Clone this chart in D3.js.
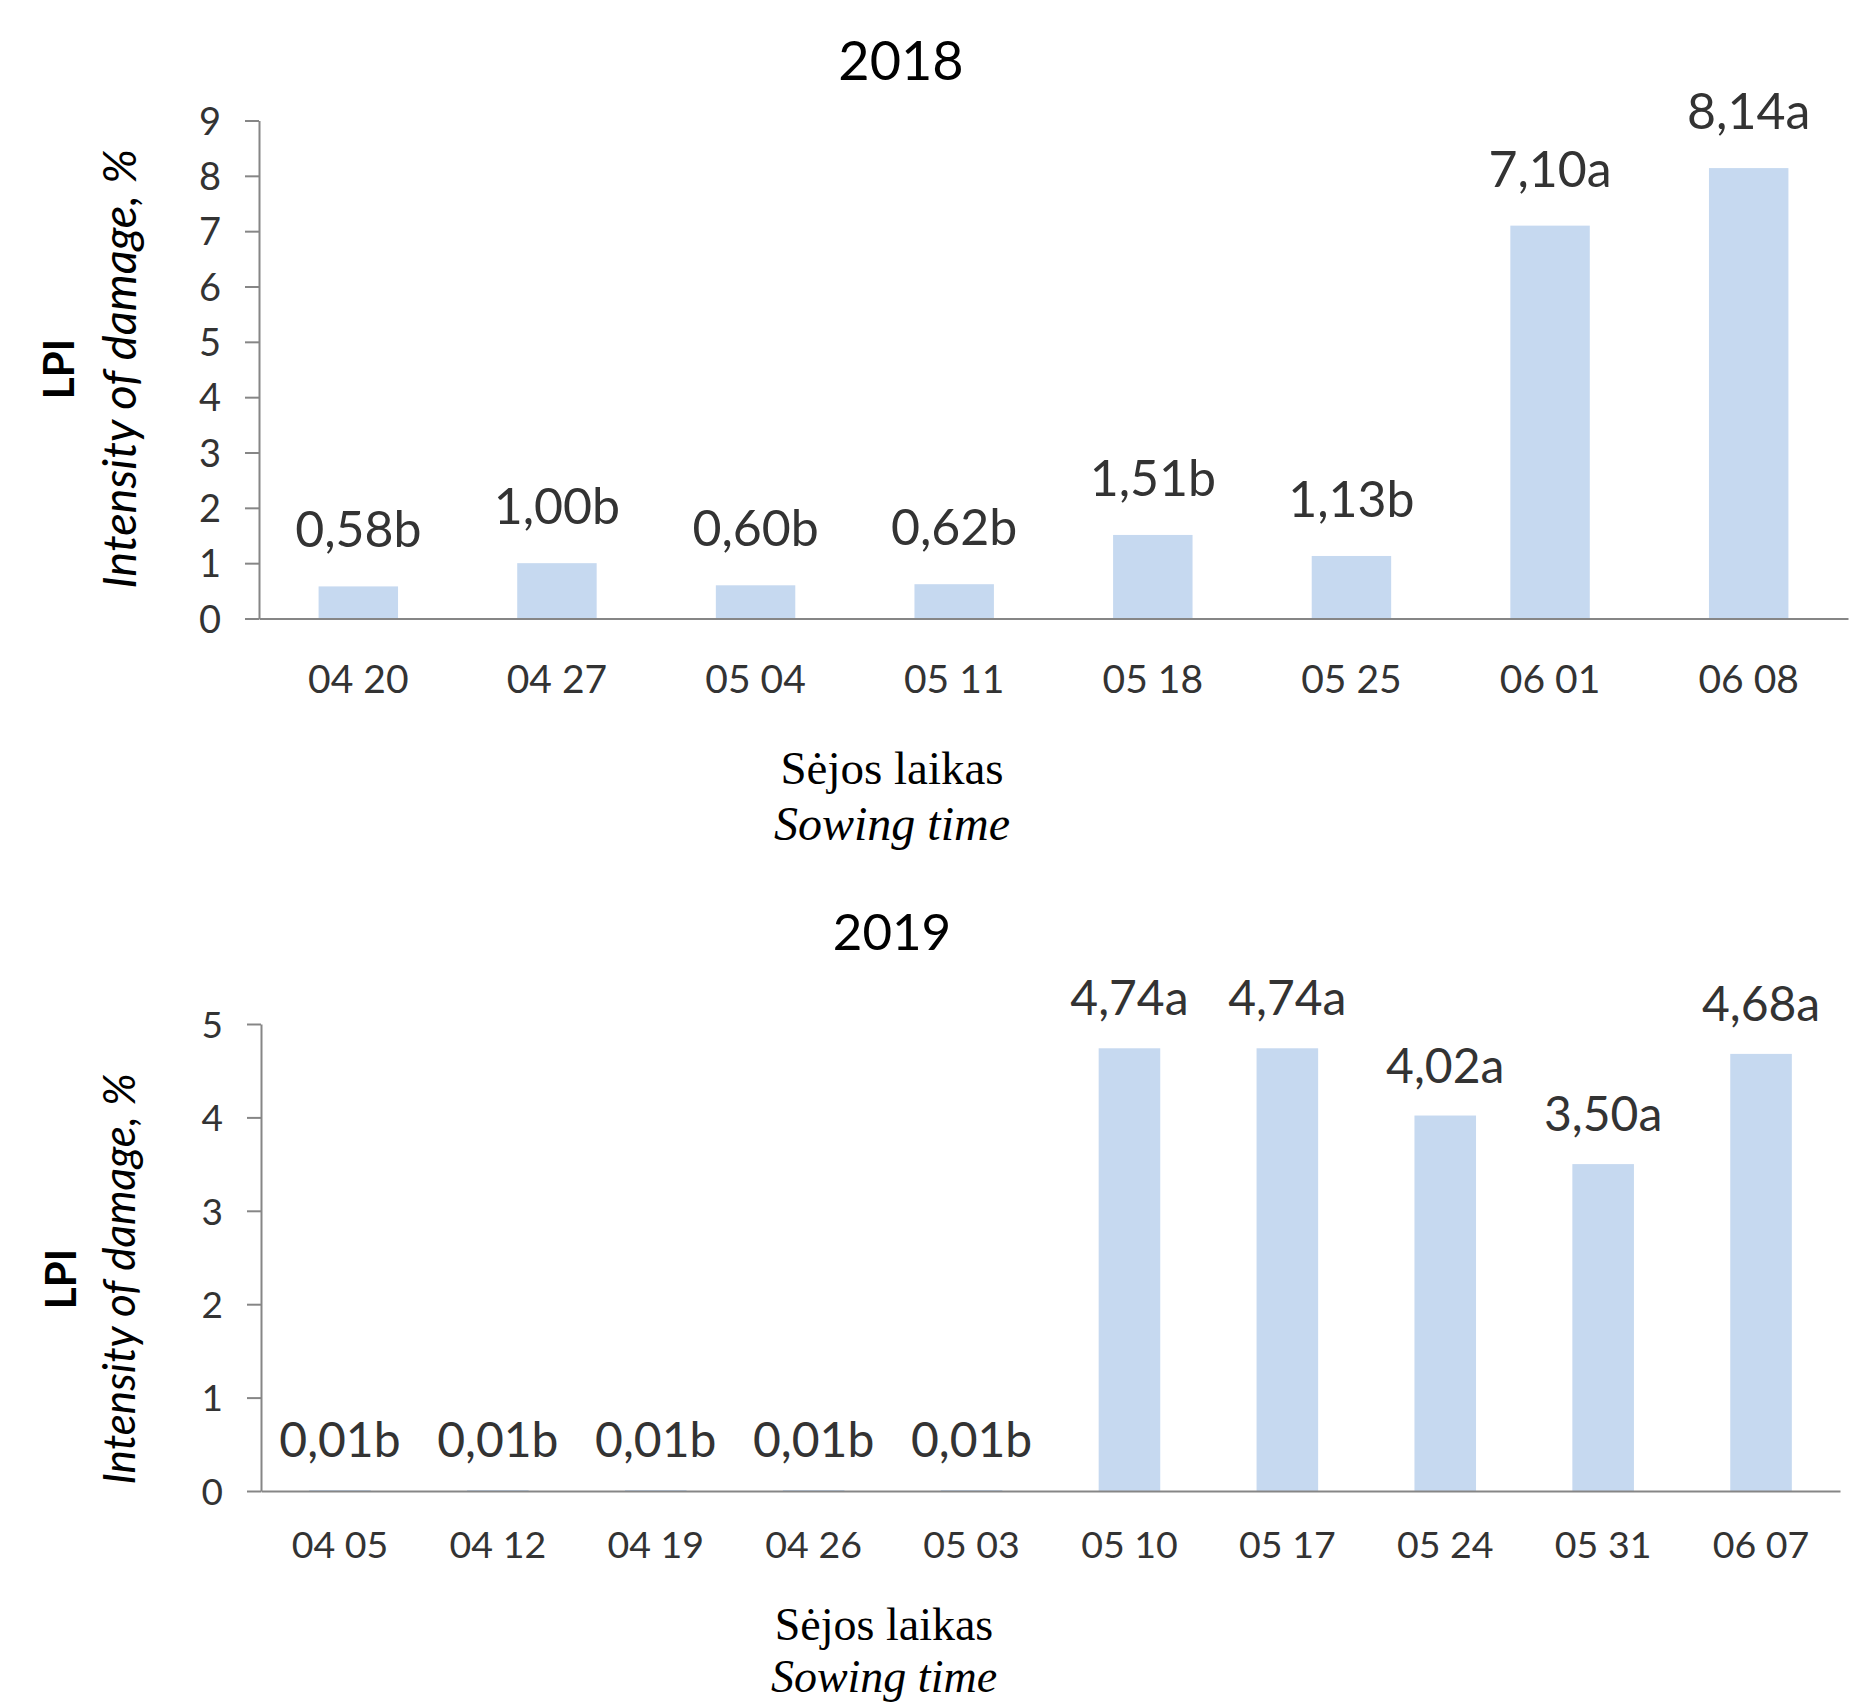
<!DOCTYPE html>
<html>
<head>
<meta charset="utf-8">
<script src="https://cdn.jsdelivr.net/npm/d3@7"></script>
<style>
  body { margin: 0; background: #fff; }
  svg { display: block; }
</style>
</head>
<body>
<script>
// 2018 data
var dates2018 = ["04 20", "04 27", "05 04", "05 11", "05 18", "05 25", "06 01", "06 08"];
var values2018 = [0.58, 1.00, 0.60, 0.62, 1.51, 1.13, 7.10, 8.14];
var letters2018 = ["b", "b", "b", "b", "b", "b", "a", "a"];
var yTicks2018 = [0, 1, 2, 3, 4, 5, 6, 7, 8, 9];

// 2019 data
var dates2019 = ["04 05", "04 12", "04 19", "04 26", "05 03", "05 10", "05 17", "05 24", "05 31", "06 07"];
var values2019 = [0.01, 0.01, 0.01, 0.01, 0.01, 4.74, 4.74, 4.02, 3.50, 4.68];
var letters2019 = ["b", "b", "b", "b", "b", "a", "a", "a", "a", "a"];
var yTicks2019 = [0, 1, 2, 3, 4, 5];

var svgWidth = 1862;
var svgHeight = 1706;

var barColor = "#c6d9f0";
var axisColor = "#868686";
var textColor = "#333333";
var sansFont = "Lato, 'Open Sans', sans-serif";
var serifFont = "'Liberation Serif', 'DejaVu Serif', serif";

var svg = d3.select("body").append("svg")
    .attr("width", svgWidth)
    .attr("height", svgHeight);

function decimalComma(v) {
    return v.toFixed(2).replace(".", ",");
}

function drawChart(cfg) {
    var g = svg.append("g");

    var x = d3.scaleBand()
        .domain(cfg.dates)
        .range([cfg.left, cfg.right])
        .paddingInner(cfg.pad)
        .paddingOuter(cfg.pad / 2);

    var y = d3.scaleLinear()
        .domain([0, d3.max(cfg.ticks)])
        .range([cfg.bottom, cfg.top]);

    // title
    g.append("text")
        .attr("x", cfg.titleX)
        .attr("y", cfg.titleY)
        .attr("text-anchor", "middle")
        .style("font-family", sansFont)
        .style("font-size", cfg.titleSize + "px")
        .style("fill", "#000")
        .text(cfg.title);

    // bars
    var bars = cfg.values.map(function(v, i) {
        return { date: cfg.dates[i], value: v, letter: cfg.letters[i] };
    });

    g.selectAll("rect.bar")
        .data(bars)
        .enter().append("rect")
        .attr("class", "bar")
        .attr("x", function(d) { return x(d.date); })
        .attr("width", x.bandwidth())
        .attr("y", function(d) { return y(d.value); })
        .attr("height", function(d) { return y(0) - y(d.value); })
        .attr("fill", barColor);

    // value labels
    g.selectAll("text.val")
        .data(bars)
        .enter().append("text")
        .attr("class", "val")
        .attr("x", function(d) { return x(d.date) + x.bandwidth() / 2; })
        .attr("y", function(d) { return y(d.value) - cfg.labelGap; })
        .attr("text-anchor", "middle")
        .style("font-family", sansFont)
        .style("font-size", cfg.labelSize + "px")
        .style("fill", textColor)
        .text(function(d) { return decimalComma(d.value) + d.letter; });

    // y axis
    var yAxis = g.append("g")
        .attr("transform", "translate(" + cfg.left + ",0)")
        .call(d3.axisLeft(y).tickValues(cfg.ticks).tickFormat(d3.format("d"))
            .tickSize(14).tickSizeOuter(0).tickPadding(24));
    yAxis.select(".domain").attr("stroke", axisColor).attr("stroke-width", 2);
    yAxis.selectAll(".tick line").attr("stroke", axisColor).attr("stroke-width", 2);
    yAxis.selectAll(".tick text")
        .attr("dy", "0.36em")
        .style("font-family", sansFont)
        .style("font-size", cfg.yTickSize + "px")
        .style("fill", textColor);

    // x axis
    var xAxis = g.append("g")
        .attr("transform", "translate(0," + cfg.bottom + ")")
        .call(d3.axisBottom(x).tickSize(0).tickSizeOuter(0).tickPadding(cfg.xTickPad));
    xAxis.select(".domain").attr("stroke", axisColor).attr("stroke-width", 2);
    xAxis.selectAll(".tick text")
        .attr("dy", "0.72em")
        .style("font-family", sansFont)
        .style("font-size", cfg.xTickSize + "px")
        .style("fill", textColor);

    // y axis titles
    g.append("text")
        .attr("transform", "translate(" + cfg.lpiX + "," + cfg.yTitleY + ") rotate(-90)")
        .attr("text-anchor", "middle")
        .style("font-family", sansFont)
        .style("font-size", "42px")
        .style("font-weight", "bold")
        .style("fill", "#000")
        .text("LPI");

    g.append("text")
        .attr("transform", "translate(" + cfg.intX + "," + cfg.yTitleY + ") rotate(-90)")
        .attr("text-anchor", "middle")
        .style("font-family", sansFont)
        .style("font-size", cfg.intSize + "px")
        .style("font-style", "italic")
        .style("fill", "#000")
        .text("Intensity of damage, %");

    // x axis titles
    g.append("text")
        .attr("x", cfg.xTitleX)
        .attr("y", cfg.xTitleY1)
        .attr("text-anchor", "middle")
        .style("font-family", serifFont)
        .style("font-size", cfg.xTitleSize1 + "px")
        .style("fill", "#000")
        .text("Sėjos laikas");

    g.append("text")
        .attr("x", cfg.xTitleX)
        .attr("y", cfg.xTitleY2)
        .attr("text-anchor", "middle")
        .style("font-family", serifFont)
        .style("font-size", cfg.xTitleSize2 + "px")
        .style("font-style", "italic")
        .style("fill", "#000")
        .text("Sowing time");
}

drawChart({
    title: "2018", titleX: 901, titleY: 80, titleSize: 54,
    dates: dates2018, values: values2018, letters: letters2018, ticks: yTicks2018,
    left: 259, right: 1848, top: 120.5, bottom: 618.5, pad: 0.6,
    labelGap: 39, labelSize: 50, yTickSize: 38, xTickSize: 39, xTickPad: 46,
    lpiX: 74, intX: 136, intSize: 47, yTitleY: 369,
    xTitleX: 892, xTitleY1: 784, xTitleY2: 840, xTitleSize1: 47, xTitleSize2: 48
});

drawChart({
    title: "2019", titleX: 892, titleY: 950, titleSize: 51,
    dates: dates2019, values: values2019, letters: letters2019, ticks: yTicks2019,
    left: 261, right: 1840, top: 1024, bottom: 1491, pad: 0.61,
    labelGap: 33, labelSize: 48, yTickSize: 37, xTickSize: 37.5, xTickPad: 40,
    lpiX: 76, intX: 135, intSize: 44, yTitleY: 1279,
    xTitleX: 884, xTitleY1: 1640, xTitleY2: 1692, xTitleSize1: 46, xTitleSize2: 46
});
</script>
</body>
</html>
